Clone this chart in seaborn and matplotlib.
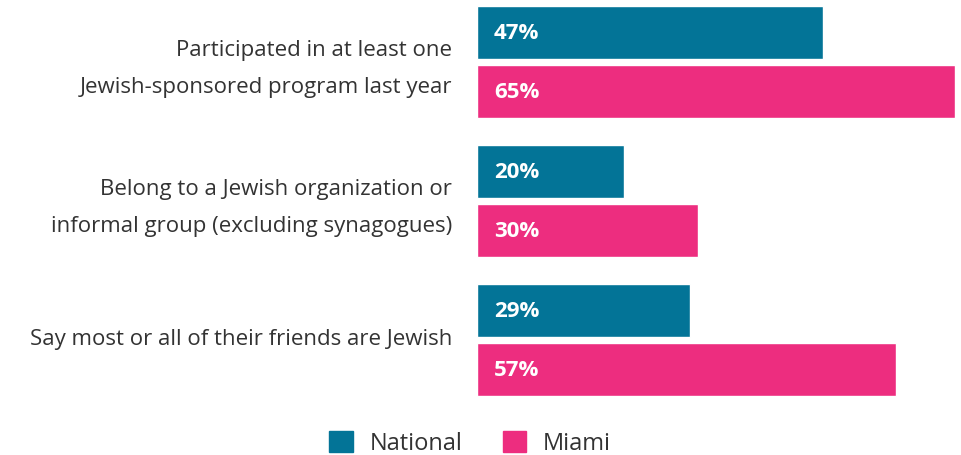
import pandas as pd
import matplotlib.pyplot as plt
import matplotlib.transforms as mtransforms
import seaborn as sns

categories = ['Participated in at least one\nJewish-sponsored program last year',
              'Belong to a Jewish organization or\ninformal group (excluding synagogues)',
              'Say most or all of their friends are Jewish']
national = [47, 20, 29]
miami = [65, 30, 57]
series = ['National', 'Miami']

df = pd.DataFrame({
    'Item': categories * 2,
    'Group': ['National'] * 3 + ['Miami'] * 3,
    'Value': national + miami,
})

sns.set_style('white')
plt.rcParams['font.family'] = ['Open Sans', 'DejaVu Sans']

fig = plt.figure(figsize=(9.61, 4.56), dpi=100)
ax = fig.add_axes([477 / 961, 46 / 456, 478 / 961, 410 / 456])

sns.barplot(data=df, y='Item', x='Value', hue='Group', orient='h',
            palette={'National': '#037497', 'Miami': '#ED2D7F'},
            width=0.845, gap=0.09, saturation=1, ax=ax, legend=False)

ax.set_xlim(0, 65)
ax.set_ylim(2.496, -0.453)
ax.set_xlabel('')
ax.set_ylabel('')
ax.set_xticks([])
ax.tick_params(axis='y', length=0, pad=18, labelsize=16, labelcolor='#333333')
# nudge labels up a few pixels
shift = mtransforms.ScaledTranslation(0, 3 / 72, fig.dpi_scale_trans)
for lbl in ax.get_yticklabels():
    lbl.set_linespacing(2.0)
    lbl.set_transform(lbl.get_transform() + shift)
sns.despine(ax=ax, left=True, bottom=True)

for cont in ax.containers:
    for p in cont:
        w = p.get_width()
        ax.text(p.get_x() + 2.3, p.get_y() + p.get_height() / 2, f'{w:.0f}%',
                color='white', fontsize=16, fontweight='bold', va='center', ha='left')

handles = [plt.Rectangle((0, 0), 1, 1, color=c) for c in ['#037497', '#ED2D7F']]
fig.legend(handles, series, loc='center', bbox_to_anchor=(470 / 961, 1 - 444 / 456),
           ncol=2, frameon=False, fontsize=17, handlelength=1.0, handleheight=1.0,
           handletextpad=0.7, columnspacing=1.7, labelcolor='#333333')

fig.savefig('out.png', dpi=100)
